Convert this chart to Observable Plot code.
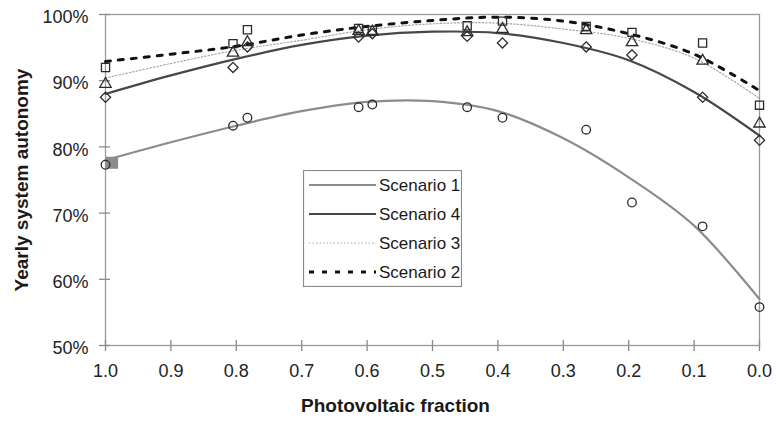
<!DOCTYPE html>
<html>
<head>
<meta charset="utf-8">
<script src="https://cdn.jsdelivr.net/npm/d3@7"></script>
<script src="https://cdn.jsdelivr.net/npm/@observablehq/plot@0.6"></script>
<style>
  body { margin: 0; background: #fff; font-family: "Liberation Sans", Arial, sans-serif; }
  #chart { position: relative; width: 777px; height: 425px; }
  #legend { position: absolute; left: 303px; top: 170px; }
</style>
</head>
<body>
<div id="chart"></div>
<script>
// Fitted trend curves, sampled along the photovoltaic fraction
const curveFractions = [1.0, 0.9, 0.8, 0.7, 0.6, 0.5, 0.4, 0.3, 0.2, 0.1, 0.0];
const fitScenario1 = [78.0, 80.7, 83.2, 85.4, 86.8, 86.9, 85.4, 81.3, 75.4, 68.1, 57.0];
const fitScenario4 = [88.0, 90.8, 93.3, 95.4, 96.8, 97.4, 97.2, 95.7, 93.1, 88.3, 81.7];
const fitScenario3 = [90.4, 92.6, 94.6, 96.1, 97.7, 98.6, 98.7, 97.8, 96.4, 93.4, 87.3];
const fitScenario2 = [92.9, 94.0, 95.2, 96.9, 98.2, 99.1, 99.6, 99.0, 97.1, 94.0, 88.5];

// Simulated runs (markers)
const runFractions = [1.0, 0.805, 0.783, 0.613, 0.592, 0.447, 0.393, 0.265, 0.195, 0.087, 0.0];
const runScenario1 = [77.3, 83.2, 84.4, 86.0, 86.4, 86.0, 84.4, 82.6, 71.6, 68.0, 55.8]; // circles
const runScenario4 = [87.5, 92.0, 95.1, 96.6, 97.1, 96.7, 95.7, 95.1, 93.9, 87.5, 81.0]; // diamonds
const runScenario3 = [89.5, 94.2, 95.8, 97.5, 97.4, 97.3, 97.8, 97.6, 95.8, 93.0, 83.5]; // triangles
const runScenario2 = [92.0, 95.6, 97.7, 97.9, 97.6, 98.3, 99.0, 98.2, 97.3, 95.7, 86.3]; // squares

// Filled grey marker at the start of the Scenario 1 curve
const scenario1StartX = [0.99];
const scenario1StartY = [77.6];

// Axes
const xTicks = [1.0, 0.9, 0.8, 0.7, 0.6, 0.5, 0.4, 0.3, 0.2, 0.1, 0.0];
const yTicks = [50, 60, 70, 80, 90, 100];

// Legend entries, in the order they are listed
const legendNames = ["Scenario 1", "Scenario 4", "Scenario 3", "Scenario 2"];

const styles = {
  "Scenario 1": {stroke: "#8c8c8c", strokeWidth: 2.2, dash: null},
  "Scenario 4": {stroke: "#474747", strokeWidth: 2.2, dash: null},
  "Scenario 3": {stroke: "#a8a8a8", strokeWidth: 1.2, dash: "1.5,2"},
  "Scenario 2": {stroke: "#111111", strokeWidth: 3, dash: "5,8"}
};

const fits = {
  "Scenario 1": fitScenario1, "Scenario 4": fitScenario4,
  "Scenario 3": fitScenario3, "Scenario 2": fitScenario2
};
const curveRows = name => curveFractions.map((x, i) => ({x, y: fits[name][i]}));
const runRows = values => runFractions.map((x, i) => ({x, y: values[i]}));

const lineMark = name => Plot.line(curveRows(name), {
  x: "x", y: "y", curve: "catmull-rom",
  stroke: styles[name].stroke, strokeWidth: styles[name].strokeWidth,
  strokeDasharray: styles[name].dash
});

const markerStyle = {stroke: "#2b2b2b", strokeWidth: 1.3, fill: "none"};

const chart = Plot.plot({
  width: 777,
  height: 425,
  marginLeft: 105,
  marginRight: 18,
  marginTop: 14,
  marginBottom: 80,
  style: {fontFamily: "'Liberation Sans', Arial, sans-serif", background: "#fff"},
  x: {domain: [1, 0]},
  y: {domain: [50, 100]},
  marks: [
    Plot.frame({stroke: "#9a9a9a", strokeWidth: 1.3}),
    Plot.tickY(yTicks, {y: d => d, insetLeft: -6, insetRight: 649, stroke: "#8a8a8a", strokeWidth: 1.3}),
    Plot.tickX(xTicks, {x: d => d, insetTop: 326, insetBottom: -6, stroke: "#8a8a8a", strokeWidth: 1.3}),
    Plot.axisY({ticks: yTicks, tickFormat: d => d + "%", tickSize: 0, tickPadding: 17, dy: 3,
      fontSize: 18, fill: "#222", label: null}),
    Plot.axisX({ticks: xTicks, tickFormat: d => d.toFixed(1), tickSize: 0, tickPadding: 19,
      fontSize: 18, fill: "#222", label: null}),
    Plot.text(["Yearly system autonomy"], {text: d => d, frameAnchor: "left", textAnchor: "middle",
      rotate: -90, dx: -84, fontSize: 19, fontWeight: "bold", fill: "#1a1a1a"}),
    Plot.text(["Photovoltaic fraction"], {text: d => d, frameAnchor: "bottom", textAnchor: "middle",
      dx: -37, dy: 66, fontSize: 19, fontWeight: "bold", fill: "#1a1a1a"}),
    lineMark("Scenario 1"),
    lineMark("Scenario 4"),
    lineMark("Scenario 3"),
    lineMark("Scenario 2"),
    Plot.dot(scenario1StartX.map((x, i) => ({x, y: scenario1StartY[i]})),
      {x: "x", y: "y", symbol: "square", r: 6, fill: "#8c8c8c", stroke: "#8c8c8c"}),
    Plot.dot(runRows(runScenario1), {x: "x", y: "y", symbol: "circle", r: 4.3, ...markerStyle}),
    Plot.dot(runRows(runScenario4), {x: "x", y: "y", symbol: "diamond2", r: 4.6, ...markerStyle}),
    Plot.dot(runRows(runScenario3), {x: "x", y: "y", symbol: "triangle", r: 4.2, ...markerStyle}),
    Plot.dot(runRows(runScenario2), {x: "x", y: "y", symbol: "square", r: 4.6, ...markerStyle})
  ]
});

const root = document.getElementById("chart");
root.appendChild(chart);

// Boxed legend inside the plot area
const lw = 159, lh = 117;
const legend = d3.create("svg")
  .attr("id", "legend")
  .attr("width", lw)
  .attr("height", lh)
  .style("font-family", "'Liberation Sans', Arial, sans-serif");
legend.append("rect")
  .attr("x", 0.5).attr("y", 0.5).attr("width", lw - 1).attr("height", lh - 1)
  .attr("fill", "#fff").attr("stroke", "#8a8a8a").attr("stroke-width", 1.2);
const rowY = d3.scalePoint().domain(legendNames).range([15, 102]);
const item = legend.selectAll("g").data(legendNames).join("g")
  .attr("transform", d => `translate(0,${rowY(d)})`);
item.append("line")
  .attr("x1", 6).attr("x2", 73)
  .attr("stroke", d => styles[d].stroke)
  .attr("stroke-width", d => styles[d].strokeWidth)
  .attr("stroke-dasharray", d => styles[d].dash);
item.append("text")
  .attr("x", 76).attr("dy", "0.35em")
  .attr("font-size", 17).attr("fill", "#1a1a1a")
  .text(d => d);
root.appendChild(legend.node());
</script>
</body>
</html>
